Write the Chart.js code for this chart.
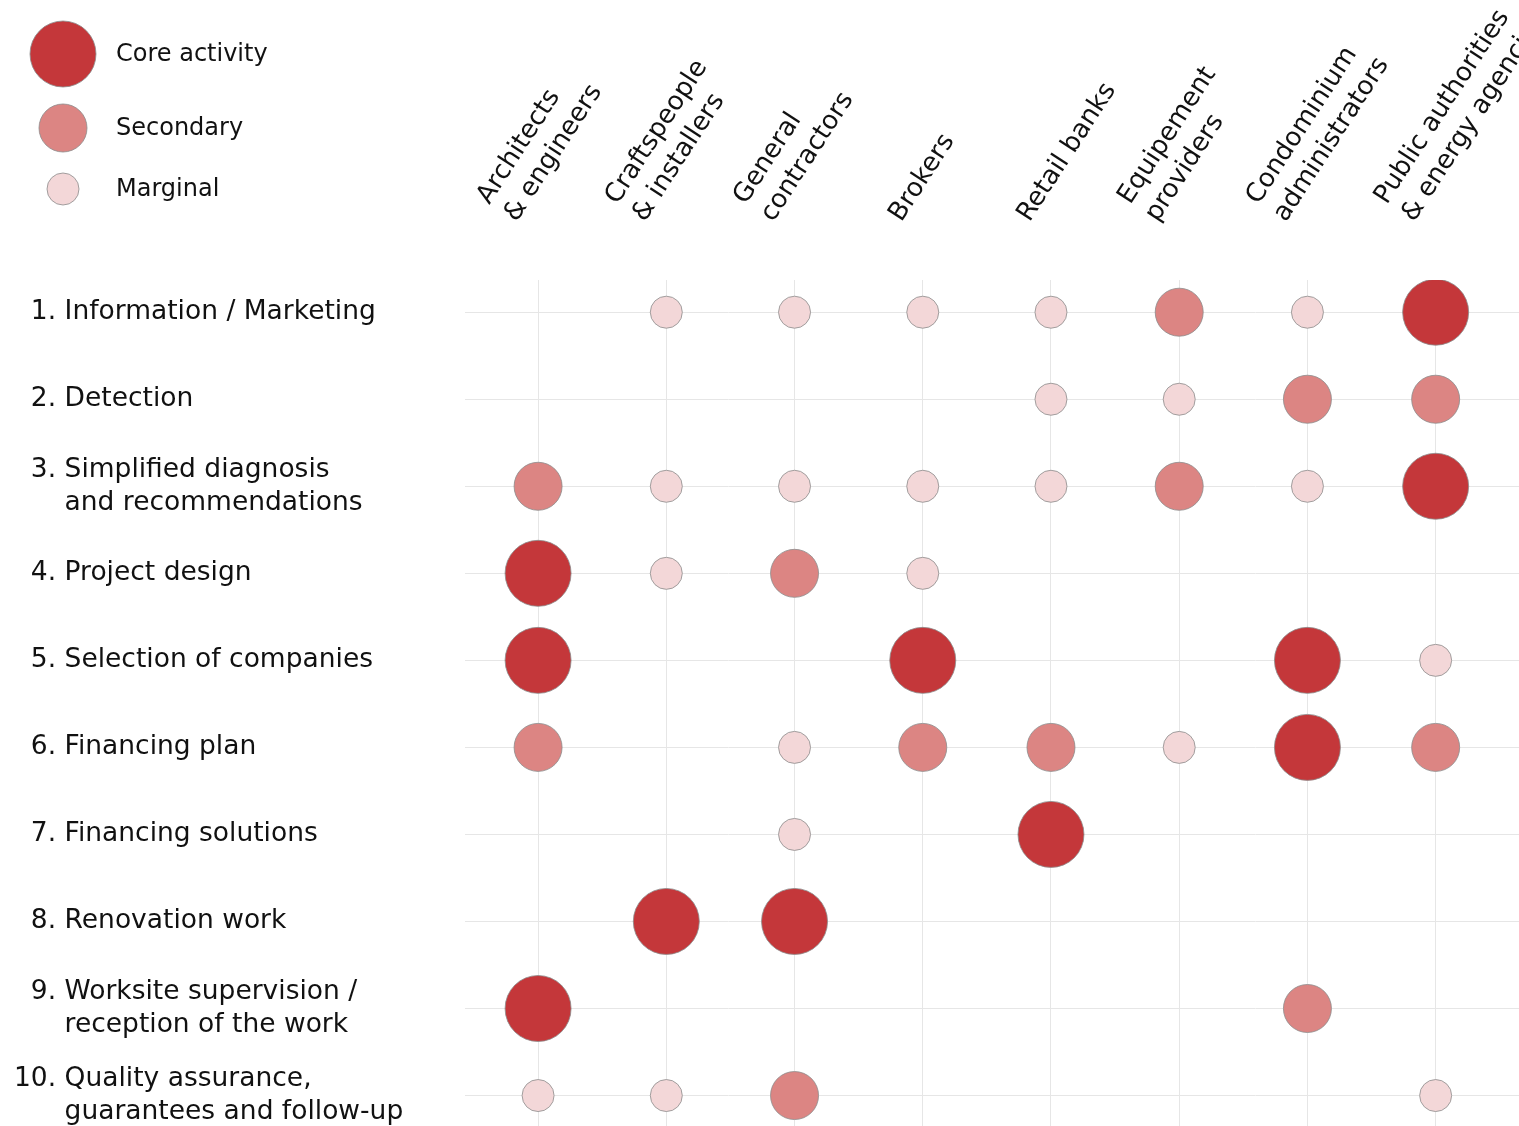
<!doctype html>
<html>
<head>
<meta charset="utf-8">
<title>Activity matrix</title>
<script src="https://cdn.jsdelivr.net/npm/chart.js@4/dist/chart.umd.min.js"></script>
<style>
	body { margin: 0; background: #fff; }
	#wrap { width: 1519px; height: 1126px; }
</style>
</head>
<body>
<div id="wrap"><canvas id="canvas"></canvas></div>
<script>
	var FS = '\u2007';
	var actors = [
		["Architects", "& engineers"],
		["Craftspeople", "& installers"],
		["General", "contractors"],
		["Brokers"],
		["Retail banks"],
		["Equipement", "providers"],
		["Condominium", "administrators"],
		["Public authorities", "& energy agencies"]
	];
	var activities = [
		[FS + "1. Information / Marketing"],
		[FS + "2. Detection"],
		[FS + "3. Simplified diagnosis", FS + FS + FS + "and recommendations"],
		[FS + "4. Project design"],
		[FS + "5. Selection of companies"],
		[FS + "6. Financing plan"],
		[FS + "7. Financing solutions"],
		[FS + "8. Renovation work"],
		[FS + "9. Worksite supervision /", FS + FS + FS + "reception of the work"],
		["10. Quality assurance,", FS + FS + FS + "guarantees and follow-up"]
	];
	// 0 = none, 1 = marginal, 2 = secondary, 3 = core activity
	var levels = [
		[0, 1, 1, 1, 1, 2, 1, 3],
		[0, 0, 0, 0, 1, 1, 2, 2],
		[2, 1, 1, 1, 1, 2, 1, 3],
		[3, 1, 2, 1, 0, 0, 0, 0],
		[3, 0, 0, 3, 0, 0, 3, 1],
		[2, 0, 1, 2, 2, 1, 3, 2],
		[0, 0, 1, 0, 3, 0, 0, 0],
		[0, 3, 3, 0, 0, 0, 0, 0],
		[3, 0, 0, 0, 0, 0, 2, 0],
		[1, 1, 2, 0, 0, 0, 0, 1]
	];
	var levelNames = { 3: "Core activity", 2: "Secondary", 1: "Marginal" };

	var levelStyle = {
		3: { r: 33, color: "#c4373a" },
		2: { r: 24, color: "#dc8583" },
		1: { r: 16, color: "#f3d7d8" }
	};
	var FONT = "'DejaVu Sans', Verdana, sans-serif";

	var datasets = [3, 2, 1].map(function(lv){
		var pts = [];
		for (var j = 0; j < levels.length; j++) {
			for (var i = 0; i < levels[j].length; i++) {
				if (levels[j][i] === lv) pts.push({ x: i, y: j, r: levelStyle[lv].r });
			}
		}
		return {
			label: levelNames[lv],
			data: pts,
			backgroundColor: levelStyle[lv].color,
			borderColor: "rgba(140,140,140,0.8)",
			borderWidth: 1
		};
	});

	var legendPlugin = {
		id: "sizeLegend",
		afterDraw: function(chart){
			var ctx = chart.ctx;
			var rows = [[3, 54], [2, 128], [1, 189]];
			ctx.save();
			rows.forEach(function(row){
				var s = levelStyle[row[0]];
				ctx.beginPath();
				ctx.arc(63, row[1], s.r, 0, Math.PI * 2);
				ctx.fillStyle = s.color;
				ctx.fill();
				ctx.strokeStyle = "rgba(140,140,140,0.8)";
				ctx.lineWidth = 1;
				ctx.stroke();
				ctx.fillStyle = "#111";
				ctx.font = "24px " + FONT;
				ctx.textBaseline = "middle";
				ctx.fillText(levelNames[row[0]], 116, row[1] + 1);
			});
			ctx.restore();
		}
	};

	function intTicks(n){
		return function(scale){
			var t = [];
			for (var k = 0; k < n; k++) t.push({ value: k });
			scale.ticks = t;
		};
	}

	window.onload = function(){
		var ctx = document.getElementById("canvas").getContext("2d");
		window.myChart = new Chart(ctx, {
			type: "bubble",
			data: { datasets: datasets },
			plugins: [legendPlugin],
			options: {
				responsive: true,
				maintainAspectRatio: false,
				animation: false,
				layout: { autoPadding: false, padding: { left: 14, right: 0, top: 0, bottom: 0 } },
				plugins: { legend: { display: false }, tooltip: { enabled: false } },
				scales: {
					x: {
						type: "linear",
						position: "top",
						min: -0.57,
						max: 7.65,
						afterBuildTicks: intTicks(actors.length),
						afterFit: function(s){ s.height = 280; s.paddingLeft = 0; s.paddingRight = 0; },
						border: { display: false },
						grid: { color: "#e6e6e6", lineWidth: 1, drawTicks: false },
						ticks: {
							minRotation: 57,
							maxRotation: 57,
							padding: 52,
							color: "#111",
							font: { family: FONT, size: 26, lineHeight: 1.25 },
							callback: function(v){ return actors[v]; }
						}
					},
					y: {
						type: "linear",
						reverse: true,
						min: -0.37,
						max: 9.35,
						afterBuildTicks: intTicks(activities.length),
						afterFit: function(s){ s.width = 451; s.paddingTop = 0; s.paddingBottom = 0; },
						border: { display: false },
						grid: { color: "#e6e6e6", lineWidth: 1, drawTicks: false },
						ticks: {
							crossAlign: "far",
							color: "#111",
							font: { family: FONT, size: 26.5, lineHeight: 1.24 },
							callback: function(v){ return activities[v]; }
						}
					}
				}
			}
		});
	};
</script>
</body>
</html>
